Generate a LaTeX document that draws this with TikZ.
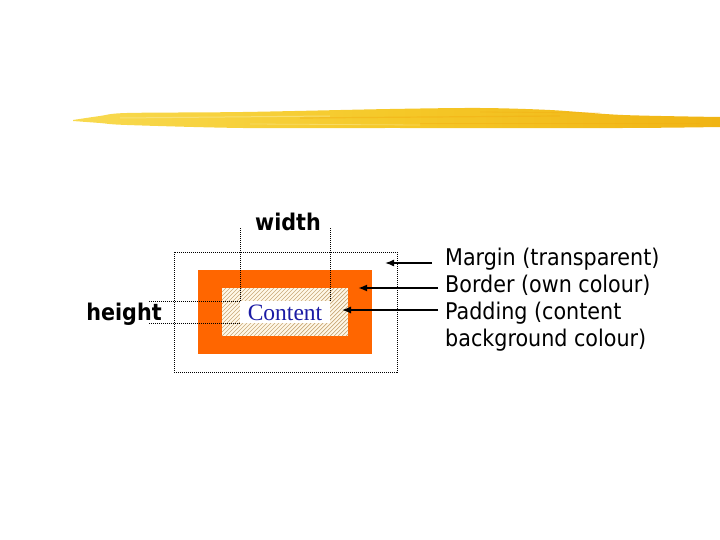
\documentclass[tikz,border=0pt]{standalone}
\usepackage{fontspec}
\setmainfont{DejaVu Sans Condensed}
\newfontfamily\contentfont{Liberation Serif}
\usetikzlibrary{arrows.meta}
\definecolor{borderorange}{RGB}{255,102,0}
\definecolor{padbg}{RGB}{255,248,232}
\definecolor{hatchtan}{RGB}{200,168,120}
\definecolor{contentblue}{RGB}{28,28,165}
\definecolor{brushlight}{RGB}{248,218,80}
\definecolor{brushmid}{RGB}{245,200,40}
\definecolor{brushdark}{RGB}{240,180,20}
\begin{document}
\begin{tikzpicture}[x=1pt,y=-1pt,
  box/.style={rectangle,inner sep=0pt,outer sep=0pt},
  guide/.style={line width=1pt,dash pattern=on 1pt off 1pt,black},
  pointer/.style={line width=1.6pt,-{Latex[length=9pt,width=7pt]}},
  lbl/.style={inner sep=0pt,font=\fontsize{23}{27}\selectfont,anchor=base west},
  dim/.style={inner sep=0pt,font=\fontsize{23}{27}\selectfont\bfseries,anchor=base}]
\useasboundingbox (0,0) rectangle (720,540);

% brush stroke
\shade[left color=brushlight,right color=brushdark,middle color=brushmid]
  plot[smooth] coordinates {(73,120) (100,116) (127,113) (243,112) (390,109) (480,108) (550,110) (623,115) (720,117)}
  -- plot[smooth] coordinates {(720,127) (623,128) (390,128) (243,128) (127,125) (100,123) (73,121)}
  -- cycle;
\draw[brushdark!85!orange,line width=1.2pt,opacity=0.45] (300,118) -- (560,116);
\draw[brushdark!85!orange,line width=1pt,opacity=0.45] (420,124) -- (700,124);
\draw[brushdark!85!orange,line width=0.8pt,opacity=0.4] (480,112) -- (600,113);
\draw[brushlight!60!white,line width=1pt,opacity=0.6] (120,118) -- (330,116);
\draw[brushlight!60!white,line width=0.8pt,opacity=0.5] (250,124) -- (420,125);

% boxes
\node[box,draw=black,guide,minimum width=223pt,minimum height=120pt] (margin) at (285.5,312) {};
\node[box,fill=borderorange,minimum width=174pt,minimum height=84pt] (border) at (285,312) {};
\node[box,fill=padbg,minimum width=126pt,minimum height=48pt] (padding) at (285,312) {};
\begin{scope}
  \clip (padding.south west) rectangle (padding.north east);
  \foreach \i in {-60,-56,...,140}
    \draw[hatchtan,line width=0.7pt] (222+\i,336) -- ++(60,-60);
\end{scope}
\node[box,fill=white,minimum width=90pt,minimum height=22pt] (content) at (285,312) {};
\node[inner sep=0pt,anchor=base,font=\fontsize{23.5}{27}\contentfont,text=contentblue] (contenttext) at (285,320) {Content};

% dimension guides
\coordinate (wl) at (240,228);
\coordinate (wr) at (330,228);
\coordinate (ht) at (148,301);
\coordinate (hb) at (148,323);
\draw[guide] (content.north west) -- (wl);
\draw[guide] (content.north east) -- (wr);
\draw[guide] (content.north west) -- (ht);
\draw[guide] (content.south west) -- (hb);
\node[dim] (width) at (288,230) {width};
\node[dim] (height) at (124,320) {height};

% labels
\node[lbl] (lmargin) at (445,265) {Margin (transparent)};
\node[lbl] (lborder) at (445,292) {Border (own colour)};
\node[lbl] (lpad1) at (445,319) {Padding (content};
\node[lbl] (lpad2) at (445,346) {background colour)};

% pointers
\coordinate (am) at (432,263);
\coordinate (tm) at (385,263);
\coordinate (ab) at (438,288);
\coordinate (tb) at (358,288);
\coordinate (ap) at (438,310);
\coordinate (tp) at (342,310);
\draw[pointer] (am) -- (tm);
\draw[pointer,line width=2pt] (ab) -- (tb);
\draw[pointer,line width=1.2pt] (ap) -- (tp);
\end{tikzpicture}
\end{document}
